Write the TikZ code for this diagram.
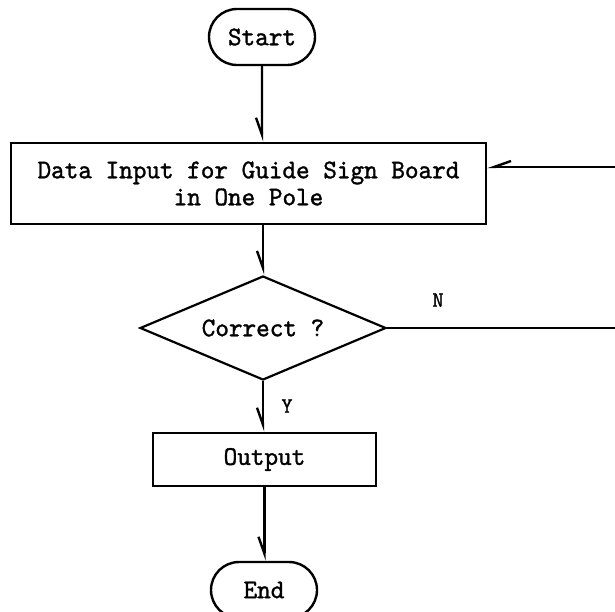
\documentclass[tikz,border=0pt]{standalone}
\usepackage{fontspec}
\newfontfamily\dfont[FakeStretch=0.96,FakeBold=1.2]{lmmono10-regular.otf}
\usetikzlibrary{shapes.misc,shapes.geometric,arrows.meta}
\begin{document}
\begin{tikzpicture}[x=1pt,y=-1pt,
  every node/.style={font=\dfont\fontsize{27}{27}\selectfont},
  term/.style={rounded rectangle, draw, line width=2.4pt, minimum width=106pt, minimum height=56pt, inner sep=0pt},
  procbox/.style={rectangle, draw, line width=2.6pt, inner sep=0pt, align=center},
  decis/.style={diamond, draw, line width=2.2pt, aspect=2.37, minimum width=246pt, minimum height=104pt, inner sep=0pt},
  conn/.style={line width=2.4pt, -{Straight Barb[harpoon,swap,length=17pt,width=12pt]}},
  lab/.style={font=\dfont\fontsize{22}{22}\selectfont}
]
\useasboundingbox (0,0) rectangle (615,611);
\node[term] (start) at (262,37) {Start};
\node[procbox, minimum width=475pt, minimum height=81pt] (inbox) at (248.5,183.5) {Data Input for Guide Sign Board\\in One Pole};
\node[decis] (dec) at (263,328) {Correct ?};
\node[procbox, minimum width=223pt, minimum height=53pt] (out) at (264.5,459.5) {Output};
\node[term] (end) at (264,590) {End};
\node[lab] (nlab) at (438,300) {N};
\node[lab] (ylab) at (287,406) {Y};
\coordinate (rt) at (640,0);
\coordinate (inhit) at (487,167);
\draw[conn] (start) -- (start |- inbox.north);
\draw[conn] (inbox.south -| dec) -- (dec);
\draw[conn] (dec.south) -- (dec.south |- out.north);
\draw[conn] (out.south) -- (out.south |- end.north);
\draw[conn] (dec.east) -- (dec.east -| rt) -- (rt |- inhit) -- (inhit);
\end{tikzpicture}
\end{document}
